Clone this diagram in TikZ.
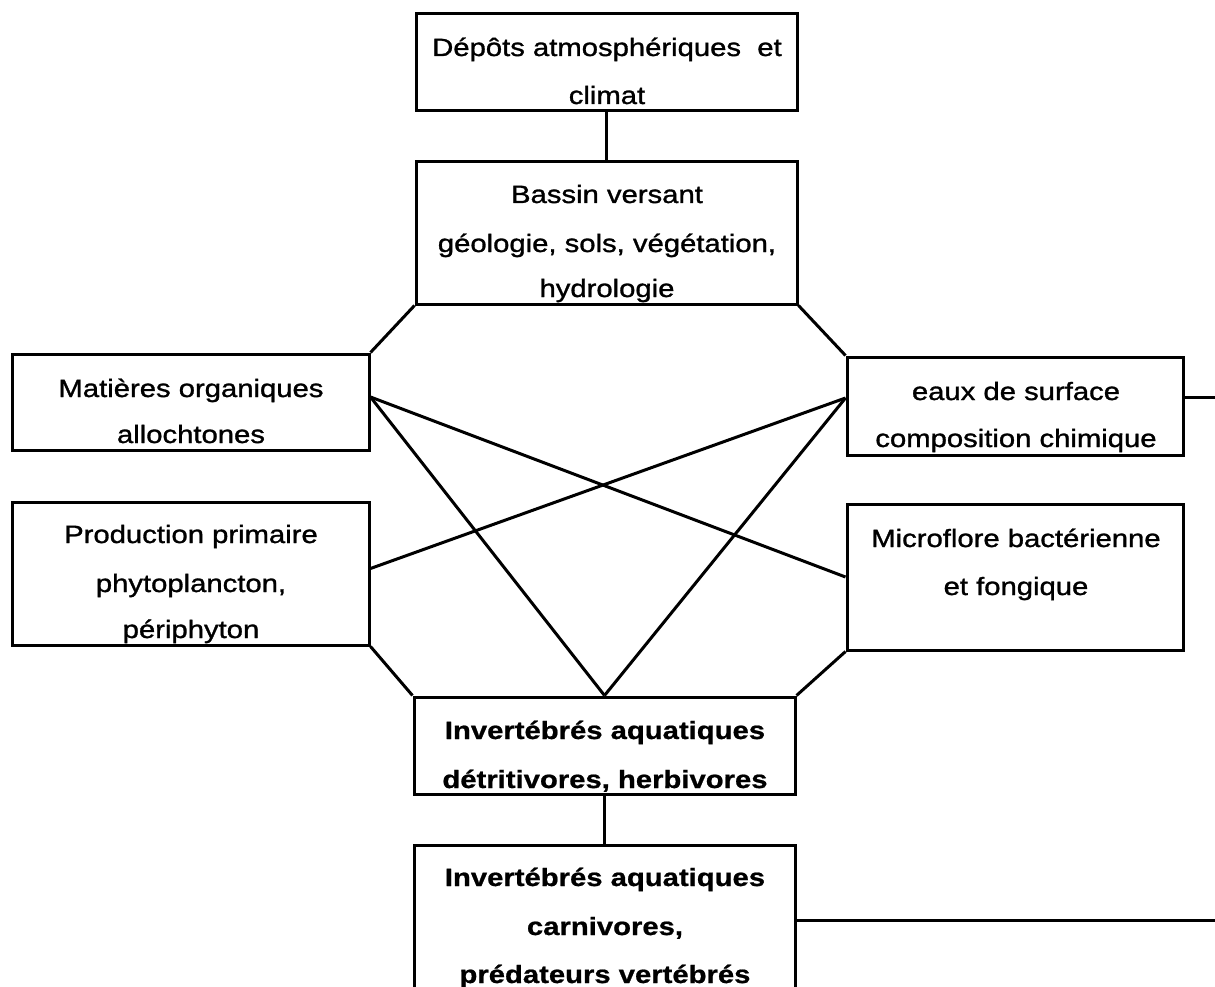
\documentclass[tikz,border=0pt]{standalone}
\usepackage{fontspec}
\setmainfont[FakeStretch=1.17,UprightFeatures={FakeBold=1.2},BoldFeatures={FakeBold=0.8}]{Liberation Sans}
\begin{document}
\begin{tikzpicture}[x=1pt,y=-1pt,
  box/.style={draw=black,line width=3pt,rectangle,inner sep=0pt,fill=none},
  lnk/.style={draw=black,line width=3pt},
  txt/.style={anchor=base,inner sep=0pt,font=\fontsize{25}{30}\selectfont},
  btxt/.style={txt,font=\fontsize{25}{30}\selectfont\bfseries}]
\useasboundingbox (0,0) rectangle (1215,987);
\clip (0,0) rectangle (1215,987);
\fill[white] (0,0) rectangle (1215,987);
% boxes
\node[box,minimum width=381pt,minimum height=97pt] (dep) at (606.5,62.5) {};
\node[box,minimum width=381pt,minimum height=142pt] (bas) at (606.5,233) {};
\node[box,minimum width=357pt,minimum height=96pt] (mat) at (190.5,402) {};
\node[box,minimum width=357pt,minimum height=143pt] (pro) at (190.5,573.5) {};
\node[box,minimum width=336pt,minimum height=98pt] (eau) at (1015,406) {};
\node[box,minimum width=336pt,minimum height=146pt] (mic) at (1015,577) {};
\node[box,minimum width=381pt,minimum height=97pt] (inv1) at (604.5,745.5) {};
\node[box,minimum width=381pt,minimum height=175pt] (inv2) at (604.5,932.5) {};
% texts
\node[txt] (depa) at (607,56) {Dépôts atmosphériques~ et};
\node[txt] (depb) at (607,104) {climat};
\node[txt] (basa) at (607,203) {Bassin versant};
\node[txt] (basb) at (607,252) {géologie, sols, végétation,};
\node[txt] (basc) at (607,297) {hydrologie};
\node[txt] (mata) at (191,397) {Matières organiques};
\node[txt] (matb) at (191,443) {allochtones};
\node[txt] (proa) at (191,543) {Production primaire};
\node[txt] (prob) at (191,592) {phytoplancton,};
\node[txt] (proc) at (191,638) {périphyton};
\node[txt] (eaua) at (1016,400) {eaux de surface};
\node[txt] (eaub) at (1016,447) {composition chimique};
\node[txt] (mica) at (1016,547) {Microflore bactérienne};
\node[txt] (micb) at (1016,595) {et fongique};
\node[btxt] (inva) at (605,739) {Invertébrés aquatiques};
\node[btxt] (invb) at (605,788) {détritivores, herbivores};
\node[btxt] (invc) at (605,886) {Invertébrés aquatiques};
\node[btxt] (invd) at (605,935) {carnivores,};
\node[btxt] (inve) at (605,983) {prédateurs vertébrés};
% free ends
\coordinate (eauR) at (1215,397);
\coordinate (invR) at (1215,920);
% connectors
\draw[lnk] (dep.south) -- (bas.north);
\draw[lnk] (inv1.south) -- (inv2.north);
\draw[lnk] (bas.south west) -- (mat.north east);
\draw[lnk] (bas.south east) -- (eau.north west);
\draw[lnk] (pro.south east) -- (inv1.north west);
\draw[lnk] (mic.south west) -- (inv1.north east);
\draw[lnk] ([yshift=5pt]mat.east) -- (mic.west);
\draw[lnk] ([yshift=5pt]mat.east) -- (inv1.north);
\draw[lnk] ([yshift=5pt]pro.east) -- ([yshift=8pt]eau.west);
\draw[lnk] ([yshift=8pt]eau.west) -- (inv1.north);
\draw[lnk] ([yshift=9pt]eau.east) -- (eauR);
\draw[lnk] (inv2.east |- invR) -- (invR);
\end{tikzpicture}
\end{document}
